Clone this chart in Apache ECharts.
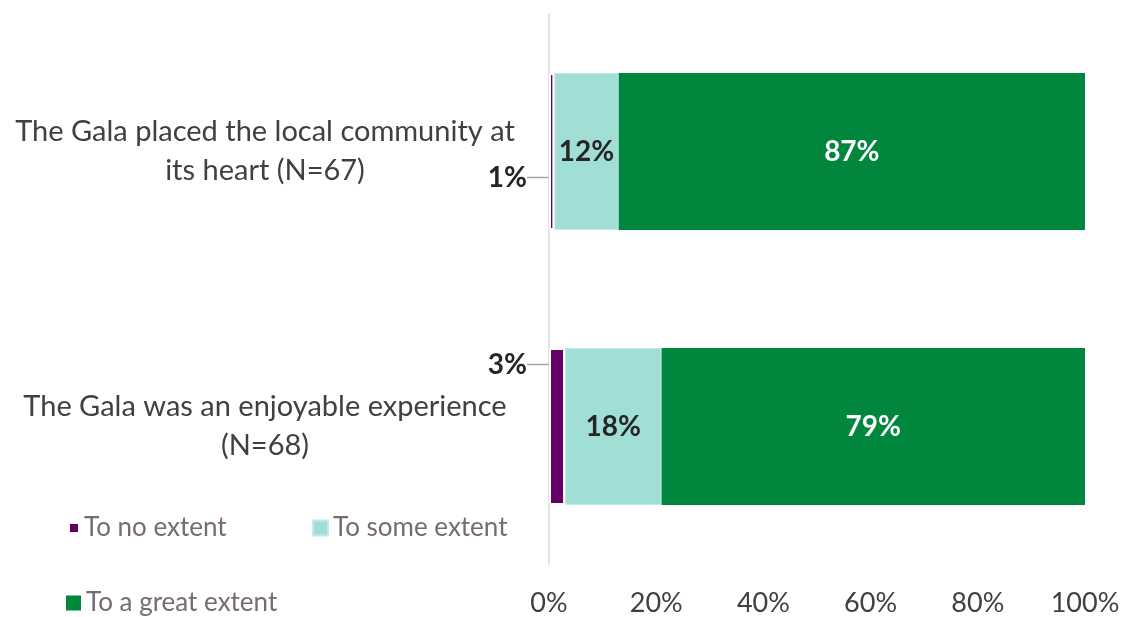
<!DOCTYPE html>
<html>
<head>
<meta charset="utf-8">
<script src="https://cdn.jsdelivr.net/npm/echarts@6/dist/echarts.min.js"></script>
<style>
  html, body { margin: 0; padding: 0; background: #ffffff; }
  #chart { width: 1126px; height: 617px; }
</style>
</head>
<body>
<div id="chart"></div>
<script>
// Survey statements (top to bottom) and response shares in percent
var categories = [
  'The Gala placed the local community at\nits heart (N=67)',
  'The Gala was an enjoyable experience\n(N=68)'
];
var noExtent = [1, 3];
var someExtent = [12, 18];
var greatExtent = [87, 79];
var xTicks = [0, 20, 40, 60, 80, 100];

var FONT = 'Lato, "Open Sans", sans-serif';
var chart = echarts.init(document.getElementById('chart'));

function pct(p) { return p.value + '%'; }

var legendText = { fontFamily: FONT, fontSize: 26, color: '#776b73' };

chart.setOption({
  animation: false,
  backgroundColor: '#ffffff',
  textStyle: { fontFamily: FONT },
  grid: { left: 549, right: 41, top: 14, bottom: 52, containLabel: false },
  legend: [
    {
      data: ['To no extent'], left: 63, top: 510, icon: 'rect',
      itemWidth: 10, itemHeight: 10, textStyle: legendText, selectedMode: false
    },
    {
      data: ['To some extent'], left: 307, top: 510, icon: 'rect',
      itemWidth: 15, itemHeight: 15, textStyle: legendText, selectedMode: false
    },
    {
      data: ['To a great extent'], left: 61, top: 585, icon: 'rect',
      itemWidth: 15, itemHeight: 15, textStyle: legendText, selectedMode: false
    }
  ],
  xAxis: {
    type: 'value', min: 0, max: 100, interval: 20,
    axisLine: { show: false }, axisTick: { show: false }, splitLine: { show: false },
    axisLabel: {
      margin: 26, fontSize: 27, color: '#404040', fontFamily: FONT,
      formatter: function (v) { return xTicks.indexOf(v) >= 0 ? v + '%' : ''; }
    }
  },
  yAxis: {
    type: 'category', inverse: true, data: categories,
    axisLine: { show: true, lineStyle: { color: '#d9d9d9', width: 1.5 } },
    axisTick: { show: false },
    axisLabel: {
      margin: 29, align: 'right', color: '#404040',
      formatter: function (v) {
        return v.split('\n').map(function (l) { return '{a|' + l + '}'; }).join('\n');
      },
      rich: {
        a: { width: 510, align: 'center', fontSize: 29, lineHeight: 39, color: '#404040', fontFamily: FONT }
      }
    }
  },
  series: [
    {
      name: 'To no extent', type: 'bar', stack: 'total', data: noExtent, barWidth: 157,
      itemStyle: { color: '#660066', borderColor: '#ffffff', borderWidth: 2 },
      label: {
        show: true, position: 'left', distance: 5, formatter: pct,
        fontFamily: FONT, fontSize: 28, fontWeight: 'bold', color: '#262626'
      },
      labelLine: { show: true, lineStyle: { color: '#a6a6a6', width: 1.5 } },
      labelLayout: function (p) {
        return p.dataIndex === 0 ? { dx: -17, dy: 26 } : { dx: -17, dy: -62 };
      }
    },
    {
      name: 'To some extent', type: 'bar', stack: 'total', data: someExtent,
      itemStyle: { color: '#a1dfd6', borderColor: '#c2ebe5', borderWidth: 1 },
      label: {
        show: true, position: 'inside', formatter: pct,
        fontFamily: FONT, fontSize: 28, fontWeight: 'bold', color: '#262626'
      }
    },
    {
      name: 'To a great extent', type: 'bar', stack: 'total', data: greatExtent,
      itemStyle: { color: '#00873d' },
      label: {
        show: true, position: 'inside', formatter: pct,
        fontFamily: FONT, fontSize: 28, fontWeight: 'bold', color: '#ffffff'
      }
    }
  ]
});
</script>
</body>
</html>
